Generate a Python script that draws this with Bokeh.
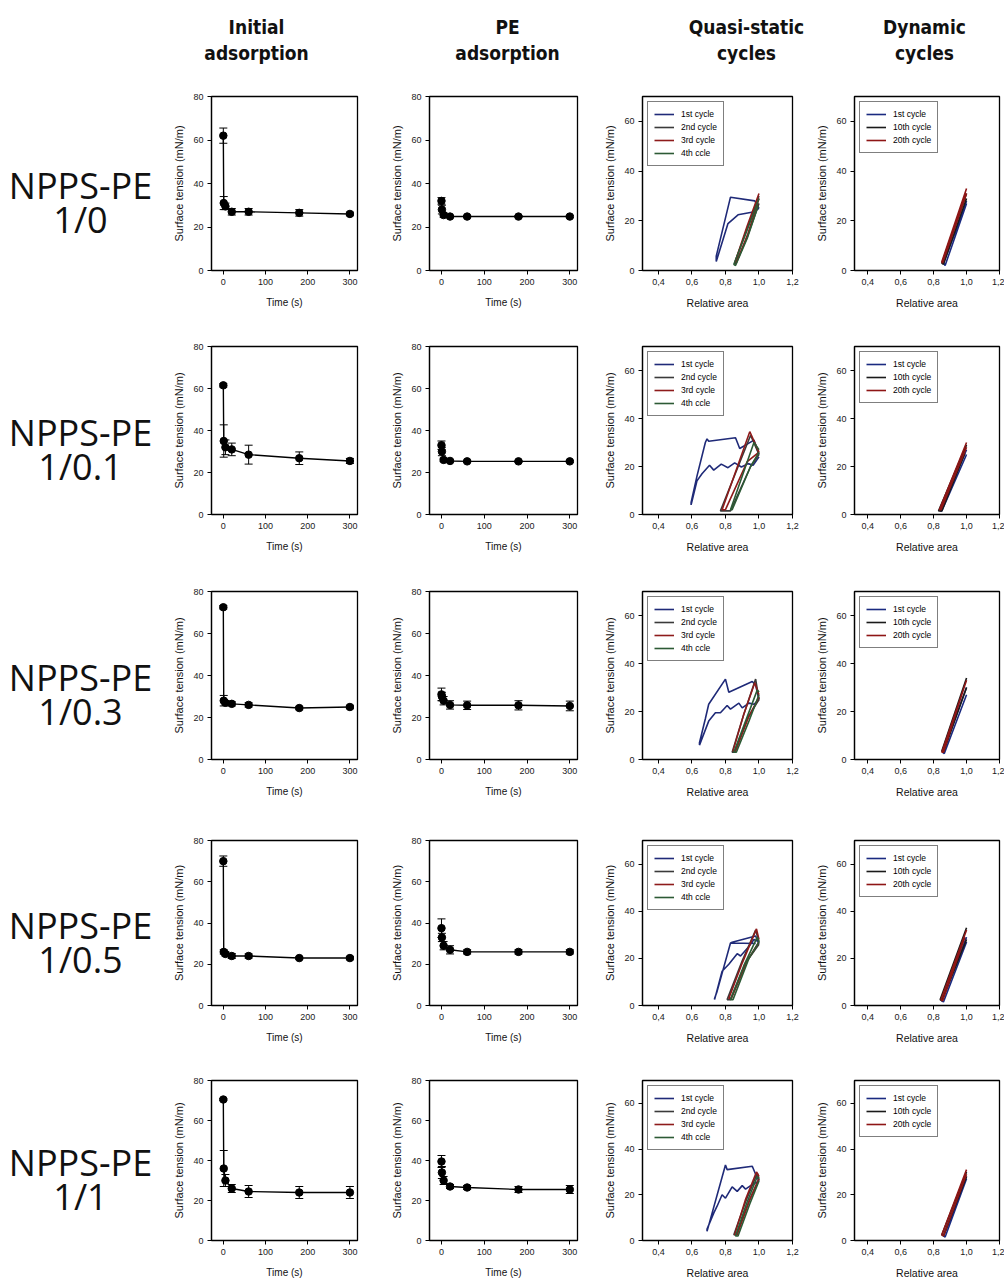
from bokeh.plotting import figure
from bokeh.layouts import row, column
from bokeh.models import (ColumnDataSource, Whisker, TeeHead, FixedTicker,
                          CustomJSTickFormatter, Range1d)
from bokeh.core.properties import value
from bokeh.embed import file_html
from bokeh.resources import INLINE

# ---------------- data ----------------
COL_TITLES = [("Initial", "adsorption"), ("PE", "adsorption"),
              ("Quasi-static", "cycles"), ("Dynamic", "cycles")]
ROW_NAMES = ["NPPS-PE", "NPPS-PE", "NPPS-PE", "NPPS-PE", "NPPS-PE"]
ROW_RATIOS = ["1/0", "1/0.1", "1/0.3", "1/0.5", "1/1"]

TIME_S = [0, 1, 5, 20, 60, 180, 300]
TIME_TICKS = [0, 100, 200, 300]
TENSION_TICKS = [0, 20, 40, 60, 80]
CYCLE_TENSION_TICKS = [0, 20, 40, 60]
AREA_TICKS = [0.4, 0.6, 0.8, 1.0, 1.2]

INIT_R1 = [62, 31, 29.5, 27, 27, 26.5, 26]
INIT_R2 = [61.5, 35, 32, 31, 28.5, 26.8, 25.5]
INIT_R3 = [72.5, 28, 27, 26.5, 26, 24.5, 25]
INIT_R4 = [70, 26, 25, 24, 24, 23, 23]
INIT_R5 = [70.5, 36, 30, 26, 24.5, 24, 24]
INIT_ERR_R1 = [3.5, 3, 1.5, 1.5, 1.5, 1.5, 0.8]
INIT_ERR_R2 = [0.8, 7.7, 3.5, 3, 4.5, 3, 1.2]
INIT_ERR_R3 = [0.8, 2.5, 1, 1, 1, 0.8, 0.8]
INIT_ERR_R4 = [2.5, 1, 1, 1.2, 1, 0.6, 0.8]
INIT_ERR_R5 = [0.5, 9, 3, 2, 3, 3, 3]

PE_R1 = [32, 28, 25.5, 24.8, 24.8, 24.8, 24.8]
PE_R2 = [33, 30, 26, 25.5, 25.3, 25.3, 25.3]
PE_R3 = [31, 30, 28, 26, 25.8, 25.8, 25.5]
PE_R4 = [37.5, 33, 29, 27, 26, 26, 26]
PE_R5 = [39.5, 34, 30, 27, 26.5, 25.5, 25.5]
PE_ERR_R1 = [1.5, 2, 1, 0.5, 0.5, 0.5, 0.5]
PE_ERR_R2 = [2, 2, 0.8, 0.5, 0.5, 0.5, 0.5]
PE_ERR_R3 = [3, 2, 2, 2, 2, 2.2, 2.3]
PE_ERR_R4 = [4.5, 2, 2, 2, 1, 1, 1]
PE_ERR_R5 = [3, 3, 2, 1, 1, 1.5, 2]

QS_LABELS = ["1st cycle", "2nd cycle", "3rd cycle", "4th ccle"]
QS_R1 = {
    "1st cycle": ([1.0, 0.975, 0.83, 0.745, 0.745, 0.815, 0.875, 0.965, 1.0],
                  [25, 28, 29.5, 5.8, 3.6, 18.9, 22.4, 23.5, 25]),
    "2nd cycle": ([1.0, 0.93, 0.855, 0.86, 0.93, 1.0], [30, 17, 3, 2.5, 13.5, 27]),
    "3rd cycle": ([1.0, 0.93, 0.86, 0.865, 0.935, 1.0], [31, 18, 4, 3, 15, 29]),
    "4th ccle": ([1.0, 0.925, 0.85, 0.86, 0.93, 0.995], [29, 15.5, 2.5, 2, 13, 26]),
}
QS_R2 = {
    "1st cycle": ([1.0, 0.97, 0.885, 0.86, 0.70, 0.69, 0.68, 0.63, 0.595, 0.595, 0.63, 0.66,
                   0.705, 0.73, 0.775, 0.815, 0.855, 0.895, 0.935, 0.965, 1.0],
                  [25, 31, 27.5, 32, 30.5, 31.5, 30, 16, 5, 4, 14, 17,
                   20.5, 18.5, 21, 19.5, 21.5, 19.8, 21.2, 20.5, 24]),
    "2nd cycle": ([1.0, 0.95, 0.77, 0.83, 0.95, 1.0], [25, 33, 1.5, 1.5, 20, 25]),
    "3rd cycle": ([1.0, 0.945, 0.78, 0.80, 0.93, 1.0], [26, 34.5, 2, 2, 22, 26]),
    "4th ccle": ([1.0, 0.97, 0.83, 0.84, 0.95, 1.0], [27, 30, 2, 2, 20, 26]),
}
QS_R3 = {
    "1st cycle": ([1.0, 0.98, 0.96, 0.82, 0.80, 0.70, 0.68, 0.645, 0.645, 0.70, 0.74, 0.77,
                   0.81, 0.83, 0.88, 0.90, 0.94, 0.97, 1.0],
                  [25, 31, 32.5, 28, 33.5, 23, 17, 7, 6, 16, 19.5, 19.5,
                   22.5, 21, 23.5, 21.5, 23.5, 23, 25]),
    "2nd cycle": ([1.0, 0.98, 0.91, 0.84, 0.855, 0.93, 1.0], [25, 33.5, 19, 3, 3, 17, 25]),
    "3rd cycle": ([1.0, 0.975, 0.91, 0.845, 0.86, 0.94, 1.0], [27, 32, 19, 3.5, 3.5, 18, 26]),
    "4th ccle": ([1.0, 0.99, 0.92, 0.85, 0.865, 0.94, 1.0], [28, 29, 16, 3, 3, 16, 27]),
}
QS_R4 = {
    "1st cycle": ([1.0, 0.98, 0.84, 0.83, 0.98, 0.83, 0.75, 0.735, 0.735, 0.78, 0.82,
                   0.87, 0.89, 0.94, 0.97, 1.0],
                  [26, 29.5, 26.8, 26.5, 26.3, 26.5, 6, 3, 2.5, 14.5, 17.5,
                   22, 21, 25, 28, 27]),
    "2nd cycle": ([1.0, 0.98, 0.9, 0.81, 0.83, 0.92, 1.0], [27, 32, 19, 2.5, 2.5, 18, 26]),
    "3rd cycle": ([1.0, 0.985, 0.9, 0.82, 0.835, 0.93, 1.0], [28, 32.5, 18, 3, 3, 19, 27]),
    "4th ccle": ([1.0, 0.99, 0.91, 0.83, 0.845, 0.94, 1.0], [27, 29, 17, 2.5, 2.5, 20, 27]),
}
QS_R5 = {
    "1st cycle": ([1.0, 0.98, 0.96, 0.81, 0.80, 0.69, 0.69, 0.73, 0.75, 0.78, 0.80,
                   0.84, 0.87, 0.90, 0.92, 0.95, 1.0],
                  [26, 29, 32.5, 31, 33, 4, 5, 12, 15, 20, 18.5,
                   23.5, 21.5, 24, 22.5, 24, 26]),
    "2nd cycle": ([1.0, 0.99, 0.92, 0.85, 0.865, 0.94, 1.0], [27, 29.5, 17, 2.5, 2.5, 17, 27]),
    "3rd cycle": ([1.0, 0.985, 0.92, 0.855, 0.87, 0.94, 1.0], [28, 30, 18, 2.5, 2.5, 17, 27]),
    "4th ccle": ([1.0, 0.99, 0.925, 0.86, 0.875, 0.945, 1.0], [27, 28, 16, 2, 2, 16, 26]),
}

DYN_LABELS = ["1st cycle", "10th cycle", "20th cycle"]
DYN_R1 = {
    "1st cycle": ([1.0, 0.86, 0.87, 1.0], [28, 3, 2, 27]),
    "10th cycle": ([1.0, 0.85, 0.86, 1.0], [31, 3, 2.5, 29]),
    "20th cycle": ([1.0, 0.85, 0.855, 1.0], [33, 3.5, 3, 31]),
}
DYN_R2 = {
    "1st cycle": ([1.0, 0.84, 0.85, 1.0], [27, 1.5, 1.5, 25]),
    "10th cycle": ([1.0, 0.83, 0.85, 0.99], [29, 1.5, 1.5, 25.5]),
    "20th cycle": ([1.0, 0.835, 0.845, 1.0], [30, 2, 2, 28]),
}
DYN_R3 = {
    "1st cycle": ([1.0, 0.855, 0.865, 1.0], [30, 3, 2.5, 27]),
    "10th cycle": ([1.0, 0.85, 0.86, 1.0], [34, 3.5, 3, 30]),
    "20th cycle": ([1.0, 0.85, 0.86, 0.99], [33, 3, 3, 31]),
}
DYN_R4 = {
    "1st cycle": ([1.0, 0.85, 0.86, 1.0], [29, 2, 1.5, 27]),
    "10th cycle": ([1.0, 0.84, 0.85, 1.0], [33, 2.5, 2, 28]),
    "20th cycle": ([1.0, 0.845, 0.855, 0.99], [32, 2.5, 2, 29]),
}
DYN_R5 = {
    "1st cycle": ([1.0, 0.86, 0.87, 1.0], [28, 2, 1.5, 27]),
    "10th cycle": ([1.0, 0.85, 0.86, 1.0], [30, 2.5, 2, 28]),
    "20th cycle": ([1.0, 0.85, 0.86, 1.0], [31, 2.5, 2, 29]),
}

INIT_ROWS = [(INIT_R1, INIT_ERR_R1), (INIT_R2, INIT_ERR_R2), (INIT_R3, INIT_ERR_R3),
             (INIT_R4, INIT_ERR_R4), (INIT_R5, INIT_ERR_R5)]
PE_ROWS = [(PE_R1, PE_ERR_R1), (PE_R2, PE_ERR_R2), (PE_R3, PE_ERR_R3),
           (PE_R4, PE_ERR_R4), (PE_R5, PE_ERR_R5)]
QS_ROWS = [QS_R1, QS_R2, QS_R3, QS_R4, QS_R5]
DYN_ROWS = [DYN_R1, DYN_R2, DYN_R3, DYN_R4, DYN_R5]

# ---------------- styles / layout ----------------
FONT = "Liberation Sans"
HEAD_FONT = "DejaVu Sans Condensed"
ROW_FONT = "Open Sans"
QS_COLORS = {"1st cycle": "#1f2a78", "2nd cycle": "#3a3a3a",
             "3rd cycle": "#8e1b1b", "4th ccle": "#2c5a35"}
DYN_COLORS = {"1st cycle": "#1a2a80", "10th cycle": "#1a1a1a", "20th cycle": "#8e1515"}

HEADER_H = 80
ROW_H = [248, 248, 247, 247, 211]
ROW_TOP_ABS = [80, 328, 576, 823, 1070]
FRAME_TOP_ABS = [96, 346, 591, 840, 1080]
FRAME_BOT_ABS = [270, 514, 759, 1005, 1240]
HEAD_CENTERS = [256, 507, 746, 924]

LABEL_W = 165
# (figure width, left border, right border)
COLS = [(220, 46, 28), (212, 44, 20), (211, 45, 16), (196, 46, 5)]


def borders(r):
    top = FRAME_TOP_ABS[r] - ROW_TOP_ABS[r]
    bottom = ROW_H[r] - (FRAME_BOT_ABS[r] - ROW_TOP_ABS[r])
    return top, bottom


def make_panel(col, r, xr, yr, xlabel, xlabel_size):
    w, left, right = COLS[col]
    h = ROW_H[r]
    top, bottom = borders(r)
    p = figure(width=w, height=h, x_range=Range1d(*xr), y_range=Range1d(*yr),
               output_backend="svg", toolbar_location=None, tools="",
               min_border_left=left, min_border_right=right,
               min_border_top=top, min_border_bottom=bottom)
    p.xgrid.visible = False
    p.ygrid.visible = False
    p.outline_line_color = "black"
    p.outline_line_width = 1.3
    p.outline_line_alpha = 1
    p.background_fill_color = "white"
    p.border_fill_color = "white"
    for ax in (p.xaxis[0], p.yaxis[0]):
        ax.axis_line_color = "black"
        ax.axis_line_width = 1.2
        ax.major_tick_line_color = "black"
        ax.major_tick_in = 0
        ax.major_tick_out = 4
        ax.minor_tick_line_color = None
        ax.major_label_text_font = FONT
        ax.major_label_text_font_size = "9px"
        ax.major_label_text_color = "#1a1a1a"
        ax.major_label_standoff = 4
        ax.axis_label_text_font = FONT
        ax.axis_label_text_font_style = "normal"
        ax.axis_label_text_color = "#111111"
    p.yaxis[0].axis_label = "Surface tension (mN/m)"
    p.yaxis[0].axis_label_text_font_size = "11px"
    p.yaxis[0].axis_label_standoff = 5
    p.xaxis[0].axis_label = xlabel
    p.xaxis[0].axis_label_text_font_size = xlabel_size
    p.xaxis[0].axis_label_standoff = 9
    return p


def adsorption_panel(col, r, means, errs):
    p = make_panel(col, r, (-28, 318), (0, 80), "Time (s)", "10px")
    src = ColumnDataSource(dict(t=TIME_S, y=means,
                                up=[m + e for m, e in zip(means, errs)],
                                lo=[m - e for m, e in zip(means, errs)]))
    p.line("t", "y", source=src, line_color="black", line_width=1.4)
    wh = Whisker(source=src, base="t", upper="up", lower="lo", dimension="height",
                 line_color="black", line_width=1,
                 upper_head=TeeHead(size=8, line_color="black", line_width=1),
                 lower_head=TeeHead(size=8, line_color="black", line_width=1))
    p.add_layout(wh)
    p.scatter("t", "y", source=src, size=7.5, fill_color="black", line_color="black")
    p.xaxis[0].ticker = FixedTicker(ticks=TIME_TICKS)
    p.yaxis[0].ticker = FixedTicker(ticks=TENSION_TICKS)
    return p


def cycle_panel(col, r, data, labels, colors, xr):
    p = make_panel(col, r, xr, (0, 70), "Relative area", "10.5px")
    for lab in labels:
        xs, ys = data[lab]
        p.line(xs, ys, line_color=colors[lab], line_width=1.6, legend_label=lab)
    p.xaxis[0].ticker = FixedTicker(ticks=AREA_TICKS)
    p.xaxis[0].formatter = CustomJSTickFormatter(code="return tick.toFixed(1).replace('.', ',');")
    p.yaxis[0].ticker = FixedTicker(ticks=CYCLE_TENSION_TICKS)
    lg = p.legend[0]
    lg.location = "top_left"
    lg.label_text_font = FONT
    lg.label_text_font_size = "8.5px"
    lg.label_text_color = "#000000"
    lg.glyph_width = 20
    lg.glyph_height = 12
    lg.label_height = 12
    lg.label_standoff = 7
    lg.spacing = 1
    lg.padding = 6
    lg.margin = 5
    lg.border_line_color = "black"
    lg.border_line_width = 1.2
    lg.background_fill_alpha = 1
    return p


def clean(p):
    p.axis.visible = False
    p.xgrid.visible = False
    p.ygrid.visible = False
    p.outline_line_color = None
    p.background_fill_color = "white"
    p.border_fill_color = "white"
    return p


# header
header = clean(figure(width=1004, height=HEADER_H, x_range=Range1d(0, 1004),
                      y_range=Range1d(HEADER_H, 0), output_backend="svg",
                      toolbar_location=None, tools="", min_border=0))
hx, hy, ht = [], [], []
for c, (l1, l2) in zip(HEAD_CENTERS, COL_TITLES):
    hx += [c, c]
    hy += [26, 52]
    ht += [l1, l2]
header.text(x=hx, y=hy, text=ht, text_font=value(HEAD_FONT),
            text_font_style="bold", text_font_size="19px", text_align="center",
            text_baseline="middle", text_color="#111111")

rows = [header]
for r in range(5):
    top, bottom = borders(r)
    ft = FRAME_TOP_ABS[r] - ROW_TOP_ABS[r]
    fb = FRAME_BOT_ABS[r] - ROW_TOP_ABS[r]
    lf = clean(figure(width=LABEL_W, height=ROW_H[r], x_range=Range1d(0, LABEL_W),
                      y_range=Range1d(fb, ft), output_backend="svg",
                      toolbar_location=None, tools="",
                      min_border_left=0, min_border_right=0,
                      min_border_top=top, min_border_bottom=bottom))
    fc = (ft + fb) / 2
    lf.text(x=[80, 80], y=[fc + 2, fc + 36], text=[ROW_NAMES[r], ROW_RATIOS[r]],
            text_font=value(ROW_FONT), text_font_size="36px", text_align="center",
            text_baseline="middle", text_color="#111111")
    p1 = adsorption_panel(0, r, *INIT_ROWS[r])
    p2 = adsorption_panel(1, r, *PE_ROWS[r])
    p3 = cycle_panel(2, r, QS_ROWS[r], QS_LABELS, QS_COLORS, (0.305, 1.2))
    p4 = cycle_panel(3, r, DYN_ROWS[r], DYN_LABELS, DYN_COLORS, (0.32, 1.2))
    rows.append(row(lf, p1, p2, p3, p4))

layout = column(*rows)
open("out.html", "w").write(file_html(layout, INLINE))
